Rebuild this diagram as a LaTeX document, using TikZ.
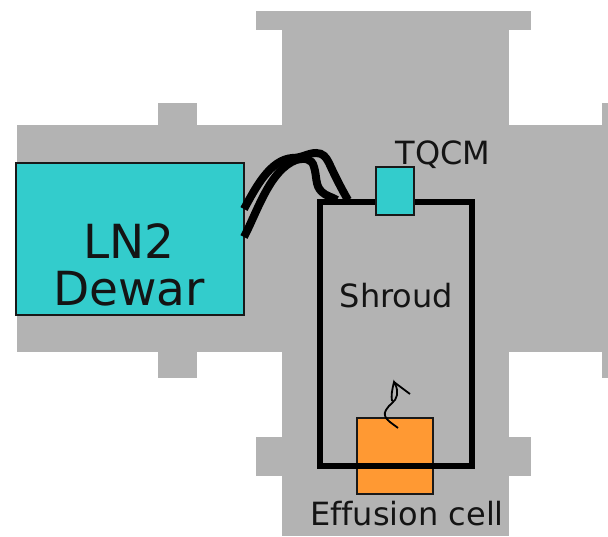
\documentclass[tikz,border=0pt]{standalone}
\usepackage{fontspec}
\setmainfont{DejaVu Sans}
\tikzset{
 chamber/.style={fill=graybg,draw=none},
 boxa/.style={draw=boxline,line width=2pt,fill=tealc,inner sep=0pt,outer sep=0pt,minimum width=#1},
 lbl/.style={inner sep=0pt,text=black!92},
 hose/.style={line width=8pt,draw=black},
 wire/.style={line width=1.8pt,draw=black}
}
\definecolor{graybg}{RGB}{179,179,179}
\definecolor{tealc}{RGB}{51,204,204}
\definecolor{orangec}{RGB}{255,153,51}
\definecolor{boxline}{RGB}{25,25,25}
\begin{document}
\begin{tikzpicture}[x=1pt,y=-1pt]
\useasboundingbox (0,0) rectangle (608,536);
% chamber
\fill[chamber] (17,125) rectangle (602,352);
\fill[chamber] (282,30) rectangle (509,536);
\fill[chamber] (256,11) rectangle (531,30);
\fill[chamber] (256,437) rectangle (531,476);
\fill[chamber] (158,103) rectangle (197,125);
\fill[chamber] (158,352) rectangle (197,378);
\fill[chamber] (602,103) rectangle (608,378);
% effusion cell
\node[draw=boxline,line width=2pt,fill=orangec,minimum width=76pt,minimum height=76pt,inner sep=0pt,outer sep=0pt,anchor=north west] (cell) at (357,418) {};
% shroud
\node[draw=black,line width=6pt,minimum width=152pt,minimum height=264pt,inner sep=0pt,outer sep=0pt,anchor=north west] (shroud) at (320,202) {};
% TQCM
\node[boxa=38pt,minimum height=48pt,anchor=north west] (tqcm) at (376,167) {};
% dewar
\node[boxa=228pt,minimum height=152pt,anchor=north west] (dewar) at (16,163) {};
\coordinate (h1a) at (244,209);
\coordinate (h2a) at (244,237);
\coordinate (h1b) at (348,200);
\coordinate (h2b) at (337,200);
\draw[hose] (h1a) .. controls (256,187) and (270,160) .. (292,158) .. controls (302,158) and (308,153) .. (316,153) .. controls (323,153) and (326,157) .. (329,163) .. controls (335,176) and (341,188) .. (h1b);
\draw[hose] (h2a) .. controls (258,210) and (270,170) .. (296,160) .. controls (304,158) and (312,158) .. (314,167) .. controls (317,176) and (315,186) .. (322,192) .. controls (326,196) and (332,197) .. (h2b);
% heater wire
\coordinate (w0) at (398,428);
\coordinate (w1) at (410,394);
\draw[wire] (w0) .. controls (392,423) and (381,418) .. (386,410) .. controls (389,404) and (396,402) .. (397,395) .. controls (398,388) and (395,384) .. (394,382) .. controls (392,390) and (391,396) .. (392,401);
\draw[wire] (394,382) -- (w1);
% labels
\node[lbl,font=\fontsize{47}{47}\selectfont,align=center] (lab1) at (129,264.5) {LN2\\Dewar};
\node[lbl,font=\fontsize{32}{36}\selectfont] (lab2) at (443,155) {TQCM};
\node[lbl,font=\fontsize{32}{36}\selectfont] (lab3) at (396.5,296) {Shroud};
\node[lbl,font=\fontsize{32}{36}\selectfont] (lab4) at (407,514) {Ef\kern0pt fusion cell};
\end{tikzpicture}
\end{document}
